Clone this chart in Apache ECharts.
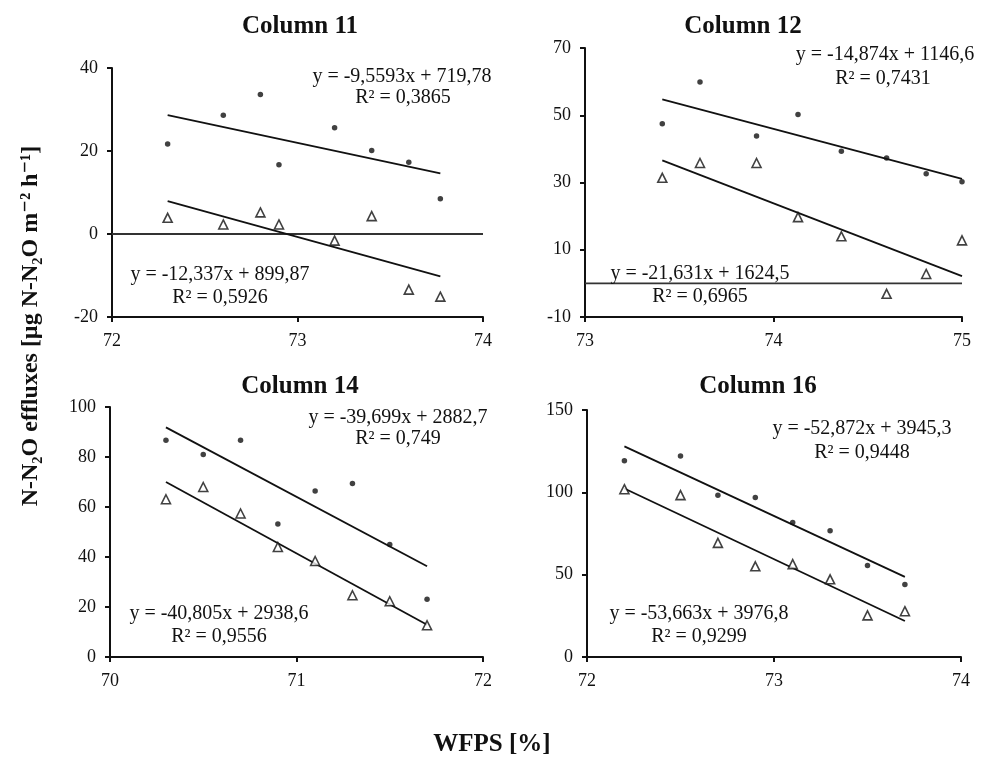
<!DOCTYPE html>
<html>
<head>
<meta charset="utf-8">
<script src="https://cdn.jsdelivr.net/npm/echarts@6/dist/echarts.min.js"></script>
<style>
  html, body { margin: 0; padding: 0; background: #fff; }
  #chart { width: 983px; height: 765px; }
</style>
</head>
<body>
<div id="chart"></div>
<script>
// Panel titles
const panelTitles = ['Column 11', 'Column 12', 'Column 14', 'Column 16'];

// WFPS values (x) per panel
const wfps11 = [72.3, 72.6, 72.8, 72.9, 73.2, 73.4, 73.6, 73.77];
const wfps12 = [73.41, 73.61, 73.91, 74.13, 74.36, 74.6, 74.81, 75.0];
const wfps14 = [70.3, 70.5, 70.7, 70.9, 71.1, 71.3, 71.5, 71.7];
const wfps16 = [72.2, 72.5, 72.7, 72.9, 73.1, 73.3, 73.5, 73.7];

// N-N2O effluxes, filled-dot series
const dots11 = [21.7, 28.6, 33.6, 16.7, 25.6, 20.1, 17.3, 8.5];
const dots12 = [47.5, 59.9, 43.8, 50.2, 39.3, 37.3, 32.6, 30.2];
const dots14 = [86.7, 81.0, 86.7, 53.2, 66.4, 69.4, 45.0, 23.1];
const dots16 = [119.2, 122.0, 98.3, 96.9, 81.7, 76.6, 55.6, 44.0];

// N-N2O effluxes, open-triangle series
const tris11 = [3.9, 2.3, 5.2, 2.3, -1.6, 4.3, -13.4, -15.1];
const tris12 = [31.4, 35.8, 35.8, 19.7, 14.0, -3.1, 2.8, 12.8];
const tris14 = [63.1, 68.0, 57.4, 44.0, 38.4, 24.7, 22.3, 12.7];
const tris16 = [101.9, 98.3, 69.3, 55.1, 56.4, 47.2, 25.3, 27.8];

// Linear fits: slope, intercept, R²
const fitDots = [
  { a: -9.5593, b: 719.78, r2: '0,3865', eq: 'y = -9,5593x + 719,78' },
  { a: -14.874, b: 1146.6, r2: '0,7431', eq: 'y = -14,874x + 1146,6' },
  { a: -39.699, b: 2882.7, r2: '0,749', eq: 'y = -39,699x + 2882,7' },
  { a: -52.872, b: 3945.3, r2: '0,9448', eq: 'y = -52,872x + 3945,3' }
];
const fitTris = [
  { a: -12.337, b: 899.87, r2: '0,5926', eq: 'y = -12,337x + 899,87' },
  { a: -21.631, b: 1624.5, r2: '0,6965', eq: 'y = -21,631x + 1624,5' },
  { a: -40.805, b: 2938.6, r2: '0,9556', eq: 'y = -40,805x + 2938,6' },
  { a: -53.663, b: 3976.8, r2: '0,9299', eq: 'y = -53,663x + 3976,8' }
];

// Axis ranges
const xMin = [72, 73, 70, 72];
const xMax = [74, 75, 72, 74];
const yMin = [-20, -10, 0, 0];
const yMax = [40, 70, 100, 150];
const yStep = [20, 20, 20, 50];
const hasZeroLine = [true, true, false, false];

const xs = [wfps11, wfps12, wfps14, wfps16];
const dotsAll = [dots11, dots12, dots14, dots16];
const trisAll = [tris11, tris12, tris14, tris16];

const FONT = '"Liberation Serif", "Times New Roman", "DejaVu Serif", serif';
const INK = '#111';

// Plot areas (px)
const grids = [
  { left: 112, top: 68, width: 371, height: 249 },
  { left: 585, top: 48, width: 377, height: 269 },
  { left: 110, top: 407, width: 373, height: 250 },
  { left: 587, top: 410, width: 374, height: 247 }
];
const titlePos = [
  { x: 295, y: 9 }, { x: 738, y: 9 }, { x: 295, y: 369 }, { x: 753, y: 369 }
];
// Equation label anchors (centre x, centre y) : upper fit, upper R², lower fit, lower R²
const eqPos = [
  [[402, 77], [403, 98], [220, 275], [220, 298]],
  [[885, 55], [883, 79], [700, 274], [700, 297]],
  [[398, 418], [398, 439], [219, 614], [219, 637]],
  [[862, 429], [862, 453], [699, 614], [699, 637]]
];

const chart = echarts.init(document.getElementById('chart'));

const title = panelTitles.map((t, i) => ({
  text: t,
  left: titlePos[i].x,
  top: titlePos[i].y,
  textAlign: 'center',
  textStyle: { fontFamily: FONT, fontWeight: 'bold', fontSize: 25, color: INK }
}));

const xAxis = grids.map((g, i) => ({
  type: 'value', gridIndex: i, min: xMin[i], max: xMax[i], interval: 1,
  splitLine: { show: false },
  axisLine: { show: true, onZero: false, lineStyle: { color: INK, width: 2 } },
  axisTick: { show: true, inside: false, length: 5, lineStyle: { color: INK, width: 2 } },
  axisLabel: { fontFamily: FONT, fontSize: 18, color: INK, margin: 15 }
}));

const yAxis = grids.map((g, i) => ({
  type: 'value', gridIndex: i, min: yMin[i], max: yMax[i], interval: yStep[i],
  splitLine: { show: false },
  axisLine: { show: true, onZero: false, lineStyle: { color: INK, width: 2 } },
  axisTick: { show: true, inside: false, length: 5, lineStyle: { color: INK, width: 2 } },
  axisLabel: { fontFamily: FONT, fontSize: 18, color: INK, margin: 14 }
}));

const series = [];
for (let i = 0; i < 4; i++) {
  const x = xs[i];
  const first = x[0], last = x[x.length - 1];
  series.push({
    type: 'scatter', xAxisIndex: i, yAxisIndex: i,
    data: x.map((v, k) => [v, dotsAll[i][k]]),
    symbol: 'circle', symbolSize: 5.5,
    itemStyle: { color: INK }, z: 5
  });
  series.push({
    type: 'scatter', xAxisIndex: i, yAxisIndex: i,
    data: x.map((v, k) => [v, trisAll[i][k]]),
    symbol: 'triangle', symbolSize: 9,
    itemStyle: { color: '#fff', borderColor: INK, borderWidth: 1.6 }, z: 5
  });
  [fitDots[i], fitTris[i]].forEach(f => {
    series.push({
      type: 'line', xAxisIndex: i, yAxisIndex: i,
      data: [[first, f.a * first + f.b], [last, f.a * last + f.b]],
      symbol: 'none', lineStyle: { color: INK, width: 1.8 }, z: 3, silent: true
    });
  });
  if (hasZeroLine[i]) {
    series.push({
      type: 'line', xAxisIndex: i, yAxisIndex: i,
      data: [[xMin[i], 0], [xMax[i], 0]],
      symbol: 'none', lineStyle: { color: '#333', width: 1.8 }, z: 2, silent: true
    });
  }
}

const graphic = [];
for (let i = 0; i < 4; i++) {
  const texts = [fitDots[i].eq, 'R² = ' + fitDots[i].r2, fitTris[i].eq, 'R² = ' + fitTris[i].r2];
  texts.forEach((t, k) => {
    graphic.push({
      type: 'text', x: eqPos[i][k][0], y: eqPos[i][k][1], z: 10,
      style: {
        text: t, fontFamily: FONT, fontSize: 20, fill: INK,
        align: 'center', verticalAlign: 'middle'
      }
    });
  });
}
// Shared axis titles
graphic.push({
  type: 'text', x: 492, y: 745, z: 10,
  style: { text: 'WFPS [%]', fontFamily: FONT, fontSize: 25, fontWeight: 'bold', fill: INK, align: 'center', verticalAlign: 'middle' }
});
graphic.push({
  type: 'text', x: 31, y: 326, rotation: Math.PI / 2, z: 10,
  style: {
    text: 'N-N₂O effluxes [µg N-N₂O m⁻² h⁻¹]',
    fontFamily: FONT, fontSize: 24, fontWeight: 'bold', fill: INK,
    align: 'center', verticalAlign: 'middle'
  }
});

chart.setOption({
  animation: false,
  backgroundColor: '#fff',
  title, grid: grids, xAxis, yAxis, series, graphic
});
</script>
</body>
</html>
